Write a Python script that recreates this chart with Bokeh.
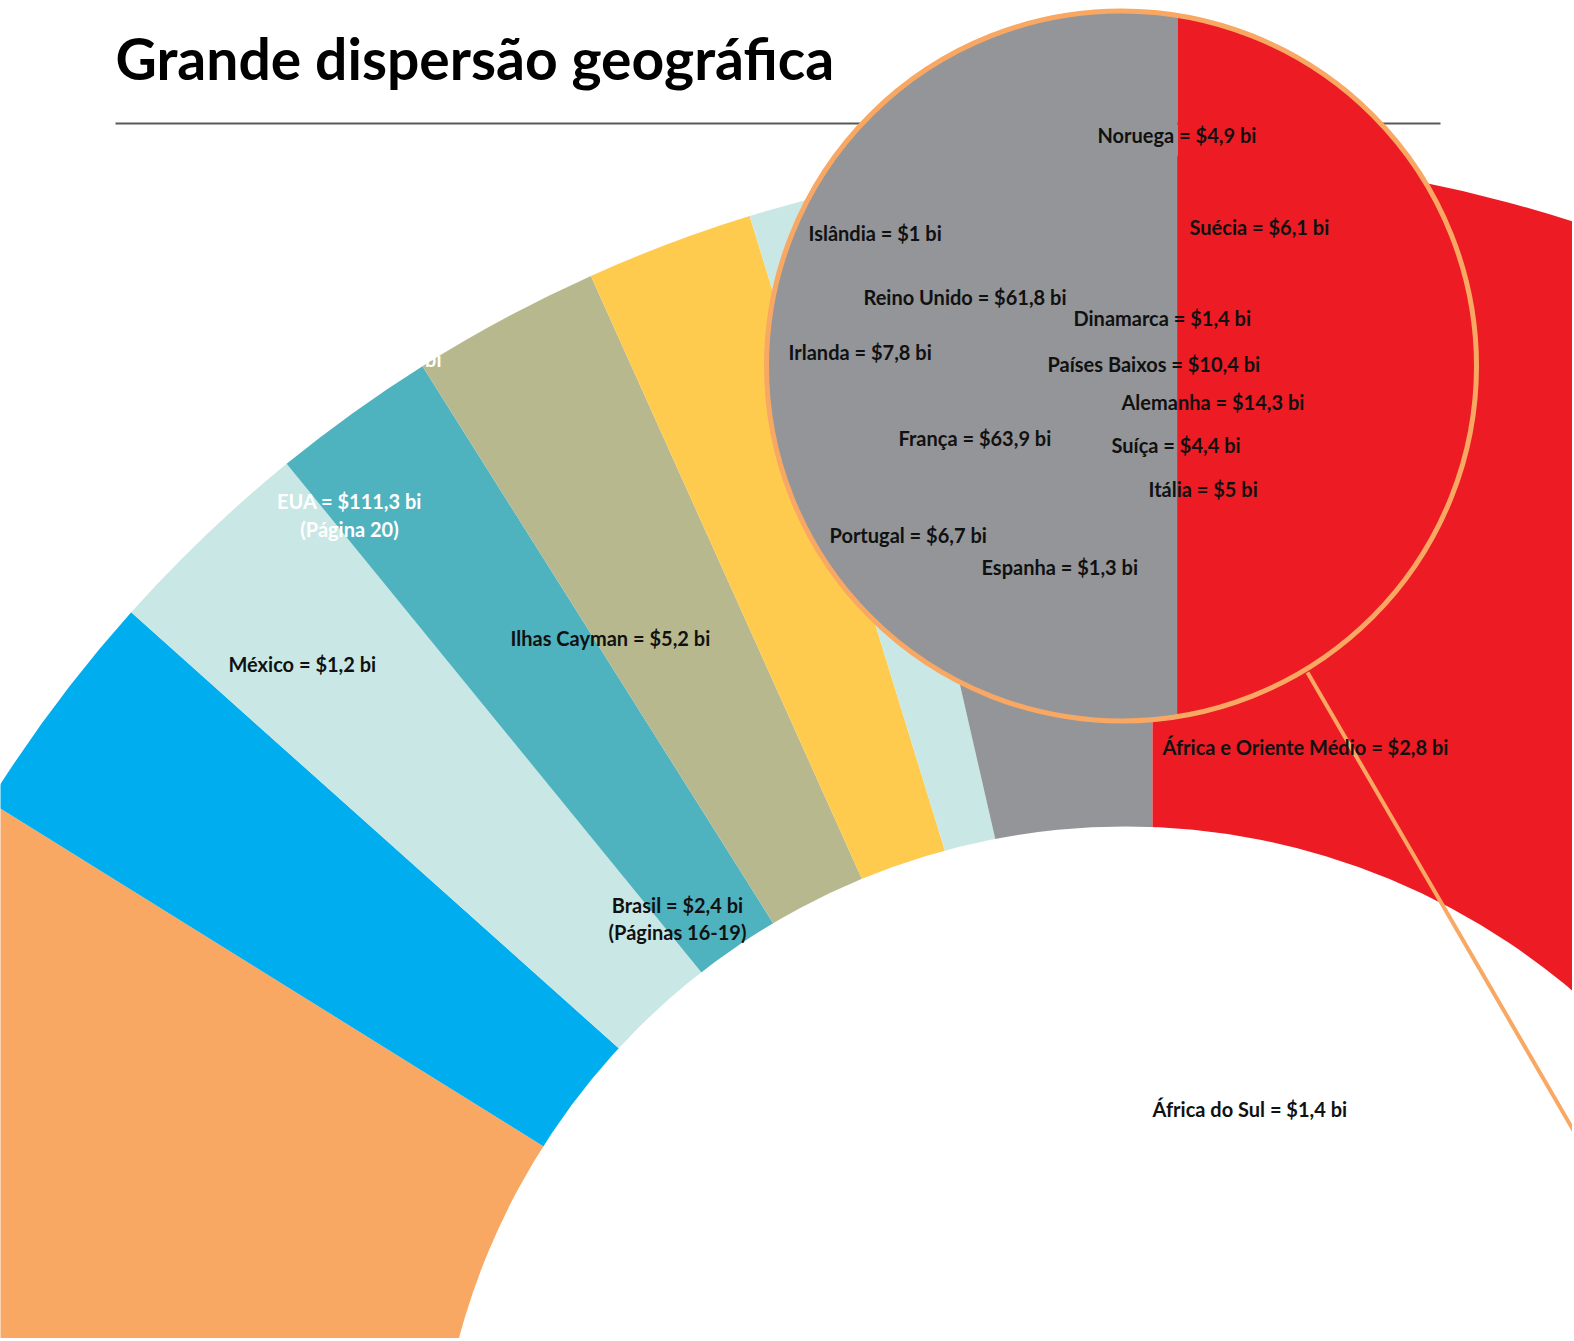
import numpy as np
from bokeh.plotting import figure
from bokeh.models import Range1d
from bokeh.core.properties import value
from bokeh.embed import file_html
from bokeh.resources import INLINE

# ---------------- data ----------------
title = "Grande dispersão geográfica"

# angular boundaries of the ring segments (degrees, counter-clockwise from east)
segment_colors = ["#F8A862", "#00ADEE", "#C9E8E5", "#4FB3BF", "#B8B88F",
                  "#FFCB4F", "#C9E8E5", "#939598", "#ED1C24"]
segment_start_deg = [148.1, 138.2, 129.2, 122.2, 114.2, 107.1, 102.9, 90.0, -30.0]
segment_end_deg = [200.0, 148.1, 138.2, 129.2, 122.2, 114.2, 107.1, 102.9, 90.0]

# zoomed circle: Europe (grey) and the neighbouring region (red)
europe_labels = ["Noruega = $4,9 bi", "Suécia = $6,1 bi", "Islândia = $1 bi",
                 "Reino Unido = $61,8 bi", "Dinamarca = $1,4 bi", "Irlanda = $7,8 bi",
                 "Países Baixos = $10,4 bi", "Alemanha = $14,3 bi", "França = $63,9 bi",
                 "Suíça = $4,4 bi", "Itália = $5 bi", "Portugal = $6,7 bi",
                 "Espanha = $1,3 bi"]

ring_labels = ["África e Oriente Médio = $2,8 bi", "África do Sul = $1,4 bi",
               "México = $1,2 bi", "Ilhas Cayman = $5,2 bi"]

centered_labels = ["Brasil = $2,4 bi", "(Páginas 16-19)"]
white_labels = ["EUA = $111,3 bi", "(Página 20)"]

# ---------------- layout (pixel space, y up) ----------------
H = 1341
def Y(py):
    return H - py

W_FIG, H_FIG = 1572, 1338
p = figure(width=W_FIG, height=H_FIG, x_range=Range1d(0, W_FIG),
           y_range=Range1d(H - H_FIG, H), output_backend="svg",
           toolbar_location=None, min_border=0, x_axis_location=None,
           y_axis_location=None)
p.grid.visible = False
p.outline_line_color = None
p.background_fill_color = "white"
p.border_fill_color = "white"

# ring segments
cx, cy, R = 1152, Y(1525), 1370
p.wedge(x=cx, y=cy, radius=R, start_angle=segment_start_deg, end_angle=segment_end_deg,
        start_angle_units="deg", end_angle_units="deg",
        fill_color=segment_colors, line_color=None)
# inner white disc
p.circle(x=[1125], y=[Y(1516)], radius=690, fill_color="white", line_color=None)

# title + rule
p.text(x=[115], y=[Y(57)], text=[title], text_font=value("Lato"), text_font_style="bold",
       text_font_size="57px", text_color="#000000", text_baseline="middle")
p.segment(x0=[115], y0=[Y(123)], x1=[1440], y1=[Y(123)], line_color="#58595B", line_width=2)

# magnifier circle
mx, my, mr = 1121, Y(365.5), 355
split_x = 1177
a0 = np.arccos((split_x - mx) / mr)
t_grey = np.linspace(a0, 2 * np.pi - a0, 200)
t_red = np.linspace(-a0, a0, 200)
p.patch(x=mx + mr * np.cos(t_grey), y=my + mr * np.sin(t_grey), fill_color="#939598", line_color=None)
p.patch(x=mx + mr * np.cos(t_red), y=my + mr * np.sin(t_red), fill_color="#ED1C24", line_color=None)
p.circle(x=[mx], y=[my], radius=mr, fill_color=None, line_color="#F8A862", line_width=5)
# connector line
p.segment(x0=[1307], y0=[Y(672)], x1=[1580], y1=[Y(1142)], line_color="#F8A862", line_width=4)

lab_font = value("Lato")
LS = "20px"

ex = [1097, 1189, 808, 863, 1073, 788, 1047, 1121, 898, 1111, 1148, 829, 981]
ey = [134, 226, 232, 296, 317, 351, 363, 401, 437, 444, 488, 534, 566]
p.text(x=ex, y=[Y(v) for v in ey], text=europe_labels, text_font=lab_font,
       text_font_style="bold", text_font_size=LS, text_color="#111111", text_baseline="middle")

rx = [1162, 1152, 228, 510]
ry = [746, 1108, 663, 637]
p.text(x=rx, y=[Y(v) for v in ry], text=ring_labels, text_font=lab_font,
       text_font_style="bold", text_font_size=LS, text_color="#111111", text_baseline="middle")

p.text(x=[677, 677], y=[Y(904), Y(931)], text=centered_labels, text_font=lab_font,
       text_font_style="bold", text_font_size=LS, text_color="#111111",
       text_baseline="middle", text_align="center")
p.text(x=[349, 349], y=[Y(500), Y(528)], text=white_labels, text_font=lab_font,
       text_font_style="bold", text_font_size=LS, text_color="#FFFFFF",
       text_baseline="middle", text_align="center")
p.text(x=[441], y=[Y(358)], text=["bi"], text_font=lab_font,
       text_font_style="bold", text_font_size=LS, text_color="#FFFFFF",
       text_baseline="middle", text_align="right")

open("out.html", "w").write(file_html(p, INLINE))
